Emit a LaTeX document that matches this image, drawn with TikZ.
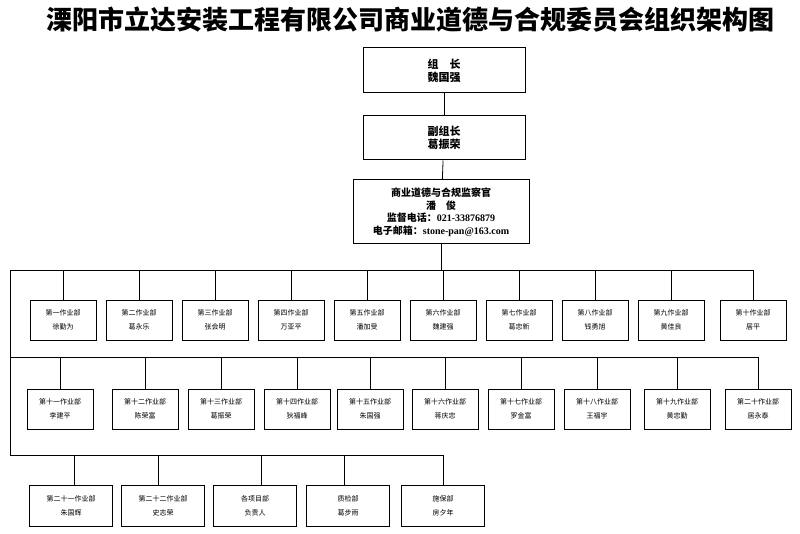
\documentclass[tikz,border=0pt]{standalone}
\usepackage{fontspec}
\setmainfont{Liberation Serif}
\newfontfamily\cjk{Noto Sans CJK SC}
\begin{document}
\begin{tikzpicture}[x=1pt,y=-1pt,
  big/.style={draw,line width=1pt,fill=white,align=center,font=\cjk\bfseries\fontsize{11}{13}\selectfont,inner sep=2pt},
  sm/.style={draw,line width=0.9pt,fill=white,align=center,minimum width=66pt,minimum height=40pt,font=\cjk\fontsize{7}{14}\selectfont,inner sep=1pt},
  sw/.style={sm,minimum width=83pt,minimum height=41pt},
  ln/.style={line width=0.8pt}]
\useasboundingbox (0,0) rectangle (800,534);
\node[font=\cjk\bfseries\fontsize{26}{28}\selectfont] (title) at (410,20) {溧阳市立达安装工程有限公司商业道德与合规委员会组织架构图};
\node[big,minimum width=162pt,minimum height=45pt] (a) at (444,70.5) {组\quad 长\\魏国强};
\node[big,minimum width=162pt,minimum height=44pt] (b) at (444,138) {副组长\\葛振荣};
\node[big,minimum width=176pt,minimum height=64pt,font=\cjk\bfseries\fontsize{10}{12.5}\selectfont] (c) at (441,212) {商业道德与合规监察官\\潘\quad 俊\\监督电话：{\rmfamily\bfseries 021-33876879}\\电子邮箱：{\rmfamily\bfseries stone-pan@163.com}};
\draw[ln] (a) -- (b); \draw[ln] (b) -- (c);
\coordinate (j1) at (441,270);
\draw[ln] (c) -- (j1);
\coordinate (L1) at (10,270); \coordinate (R1) at (753,270);
\coordinate (L2) at (10,357); \coordinate (R2) at (758,357);
\coordinate (L3) at (10,455); \coordinate (R3) at (443,455);
\draw[ln] (L1) -- (R1); \draw[ln] (L1) -- (L3); \draw[ln] (L2) -- (R2); \draw[ln] (L3) -- (R3);
\foreach \x/\t/\n [count=\i] in {63/一/徐勤为,139/二/葛永乐,215/三/张会明,291/四/万亚平,367/五/潘加受,443/六/魏建强,519/七/葛忠新,595/八/钱勇旭,671/九/黄佳良,753/十/居平}{
  \node[sm] (r\i) at (\x,320) {第\t 作业部\\\n};
  \coordinate (t\i) at (\x,270);
  \draw[ln] (t\i) -- (r\i);}
\foreach \x/\t/\n [count=\i] in {60/十一/李建平,145/十二/陈荣富,221/十三/葛振荣,297/十四/狄福峰,370/十五/朱国强,445/十六/蒋庆忠,521/十七/罗金富,597/十八/王福宇,677/十九/黄忠勤,758/二十/居永泰}{
  \node[sm] (s\i) at (\x,409) {第\t 作业部\\\n};
  \coordinate (u\i) at (\x,357);
  \draw[ln] (u\i) -- (s\i);}
\foreach \x/\t/\n [count=\i] in {71/第二十一作业部/朱国辉,163/第二十二作业部/史志荣,255/各项目部/负责人,348/质检部/葛步雨,443/施保部/房夕年}{
  \node[sw] (w\i) at (\x,506) {\t\\\n};}
\foreach \x [count=\i] in {74,158,261,344,443}{
  \coordinate (v\i) at (\x,455);
  \draw[ln] (v\i) -- (v\i |- w\i.north);}
\end{tikzpicture}
\end{document}
